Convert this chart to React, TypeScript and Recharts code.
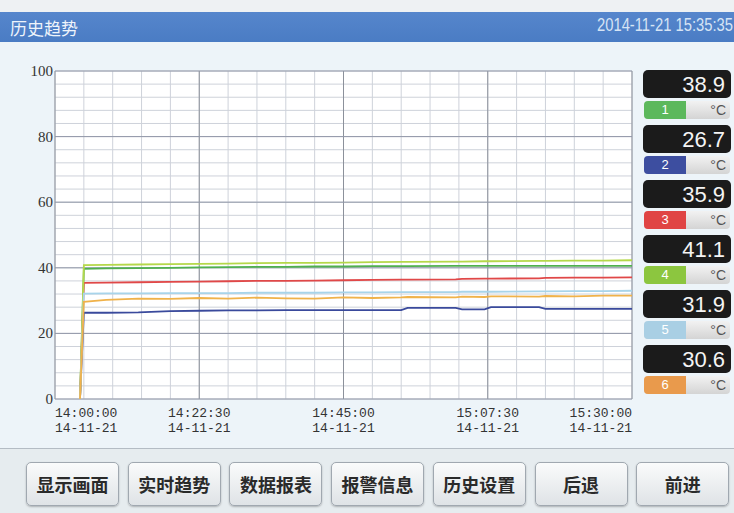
import React from 'react';
import { LineChart, Line, XAxis, YAxis, CartesianGrid, ReferenceLine } from 'recharts';

// minutes since 14:00:00
const times = [3.9, 4.5, 8, 13, 18, 22.5, 27, 31.5, 36, 40.5, 45, 49.5, 54, 55, 62.5, 63.5, 67, 68, 75.5, 76.5, 81, 85.5, 90];
const ch1 = [0, 39.7, 39.8, 39.9, 40.0, 40.1, 40.2, 40.3, 40.3, 40.4, 40.4, 40.5, 40.5, 40.5, 40.6, 40.6, 40.6, 40.6, 40.6, 40.6, 40.6, 40.6, 40.6];
const ch2 = [0, 26.3, 26.3, 26.4, 26.8, 26.9, 27.0, 27.0, 27.1, 27.1, 27.1, 27.1, 27.1, 27.8, 27.8, 27.3, 27.3, 28.0, 28.0, 27.5, 27.5, 27.5, 27.5];
const ch3 = [0, 35.4, 35.5, 35.6, 35.7, 35.8, 35.9, 36.0, 36.0, 36.1, 36.2, 36.3, 36.4, 36.4, 36.5, 36.6, 36.7, 36.7, 36.8, 36.9, 37.0, 37.0, 37.1];
const ch4 = [0, 40.8, 40.9, 41.0, 41.1, 41.2, 41.3, 41.4, 41.5, 41.5, 41.6, 41.7, 41.8, 41.8, 41.9, 41.9, 42.0, 42.0, 42.1, 42.1, 42.2, 42.2, 42.3];
const ch5 = [0, 32.1, 32.2, 32.2, 32.3, 32.3, 32.3, 32.4, 32.4, 32.4, 32.5, 32.5, 32.6, 32.6, 32.6, 32.7, 32.7, 32.7, 32.8, 32.8, 32.9, 32.9, 33.0];
const ch6 = [0, 29.6, 30.2, 30.6, 30.5, 30.8, 30.6, 30.9, 30.7, 30.6, 31.0, 30.8, 31.0, 31.1, 31.0, 31.2, 31.1, 31.3, 31.2, 31.4, 31.3, 31.5, 31.5];

const channelNames = ['1', '2', '3', '4', '5', '6'];
const channelValues = ['38.9', '26.7', '35.9', '41.1', '31.9', '30.6'];
const channelColors = ['#4fb04f', '#3a4a9c', '#e04848', '#b5d84a', '#a8d4ea', '#f0b24a'];
const chipColors = ['#5cb85c', '#3d4ea0', '#e04444', '#8cc63f', '#a9cfe4', '#e99a4c'];

const majorTimes = [0, 22.5, 45, 67.5, 90];
const timeLabels = ['14:00:00', '14:22:30', '14:45:00', '15:07:30', '15:30:00'];
const dateLabel = '14-11-21';
const minorXTicks = [0, 4.5, 9, 13.5, 18, 22.5, 27, 31.5, 36, 40.5, 45, 49.5, 54, 58.5, 63, 67.5, 72, 76.5, 81, 85.5, 90];
const minorYTicks = [0, 4, 8, 12, 16, 20, 24, 28, 32, 36, 40, 44, 48, 52, 56, 60, 64, 68, 72, 76, 80, 84, 88, 92, 96, 100];
const majorY = [0, 20, 40, 60, 80, 100];

const buttons = ['显示画面', '实时趋势', '数据报表', '报警信息', '历史设置', '后退', '前进'];
const headerTitle = '历史趋势';
const headerDate = '2014-11-21 15:35:35';

const series = [ch1, ch2, ch3, ch4, ch5, ch6];
const data = times.map((t, i) => {
  const row: any = { t };
  series.forEach((s, k) => { row['c' + (k + 1)] = s[i]; });
  return row;
});

const XTick = (props: any) => {
  const { x, y, payload } = props;
  const idx = majorTimes.indexOf(payload.value);
  if (idx < 0) return null;
  const anchor = idx === 0 ? 'start' : idx === majorTimes.length - 1 ? 'end' : 'middle';
  return (
    <g>
      <text x={x} y={y + 16} textAnchor={anchor} fontFamily="'Liberation Mono', monospace" fontSize={13} fill="#333">{timeLabels[idx]}</text>
      <text x={x} y={y + 31} textAnchor={anchor} fontFamily="'Liberation Mono', monospace" fontSize={13} fill="#333">{dateLabel}</text>
    </g>
  );
};

const YTick = (props: any) => {
  const { y, payload } = props;
  if (majorY.indexOf(payload.value) < 0) return null;
  return (
    <text x={53} y={y + 5} textAnchor="end" fontFamily="'Liberation Serif', serif" fontSize={15} fill="#333">{payload.value}</text>
  );
};

export default function App() {
  return (
    <div style={{ position: 'absolute', left: 0, top: 0, width: 734, height: 513, background: '#edf4f9', overflow: 'hidden', fontFamily: "'Noto Sans CJK SC', sans-serif" }}>
      <div style={{ position: 'absolute', left: 0, top: 0, width: 734, height: 12, background: '#eef1f3' }} />
      <div style={{ position: 'absolute', left: 0, top: 12, width: 734, height: 30, background: 'linear-gradient(#5686cc, #4a7cc4)', overflow: 'hidden' }}>
        <div style={{ position: 'absolute', left: 10, top: 3, color: '#eef4fb', fontSize: 17, whiteSpace: 'nowrap' }}>{headerTitle}</div>
        <div style={{ position: 'absolute', left: 597, top: 3, color: '#d6e4f5', fontSize: 18, fontFamily: "'Liberation Sans', sans-serif", whiteSpace: 'nowrap', transform: 'scaleX(0.82)', transformOrigin: 'left center' }}>{headerDate}</div>
      </div>
      <div style={{ position: 'absolute', left: 0, top: 0 }}>
        <LineChart width={640} height={450} data={data} margin={{ top: 71, right: 8, bottom: 0, left: 0 }}>
          <CartesianGrid fill="#ffffff" stroke="#ced2da" strokeWidth={1} />
          <XAxis dataKey="t" type="number" domain={[0, 90]} ticks={minorXTicks} interval={0} height={51} axisLine={false} tickLine={false} tickSize={0} tick={<XTick />} />
          <YAxis type="number" domain={[0, 100]} ticks={minorYTicks} interval={0} width={55} axisLine={false} tickLine={false} tickSize={0} tick={<YTick />} />
          {majorTimes.map((v) => (
            <ReferenceLine key={'x' + v} x={v} stroke="#8c919b" strokeWidth={1} />
          ))}
          {majorY.map((v) => (
            <ReferenceLine key={'y' + v} y={v} stroke="#9298a8" strokeWidth={1} />
          ))}
          {channelNames.map((n, k) => (
            <Line key={n} type="linear" dataKey={'c' + (k + 1)} stroke={channelColors[k]} strokeWidth={1.8} dot={false} isAnimationActive={false} />
          ))}
        </LineChart>
      </div>
      {channelNames.map((n, k) => (
        <div key={n} style={{ position: 'absolute', left: 643, top: 70 + k * 55, width: 88 }}>
          <div style={{ height: 28, background: '#1b1b1b', borderRadius: 5, color: '#f4f4f4', fontSize: 22, fontFamily: "'Liberation Sans', sans-serif", textAlign: 'right', paddingRight: 6, lineHeight: '29px', boxSizing: 'border-box' }}>{channelValues[k]}</div>
          <div style={{ position: 'absolute', top: 31, left: 1, width: 86, height: 18, borderRadius: 4, overflow: 'hidden', background: 'linear-gradient(#f2f2f2, #d4d4d4)' }}>
            <div style={{ position: 'absolute', left: 0, top: 0, width: 42, height: 18, background: chipColors[k], color: '#fff', fontSize: 13, textAlign: 'center', lineHeight: '18px', fontFamily: "'Liberation Sans', sans-serif" }}>{n}</div>
            <div style={{ position: 'absolute', right: 4, top: 0, height: 18, color: '#555', fontSize: 14, lineHeight: '18px', fontFamily: "'Liberation Sans', sans-serif" }}>°C</div>
          </div>
        </div>
      ))}
      <div style={{ position: 'absolute', left: 0, top: 448, width: 734, height: 65, background: '#e6ecef', borderTop: '1px solid #b4bcc4' }} />
      {buttons.map((b, i) => (
        <div key={b} style={{ position: 'absolute', left: 26 + i * 101.7, top: 462, width: 93, height: 44, boxSizing: 'border-box', border: '1px solid #a0a8b0', borderRadius: 5, background: 'linear-gradient(#fafbfb, #dfe3e6)', boxShadow: '0 1px 2px rgba(0,0,0,0.25)', textAlign: 'center', lineHeight: '42px', fontSize: 18, fontWeight: 700, color: '#2a2a2a' }}>{b}</div>
      ))}
    </div>
  );
}
